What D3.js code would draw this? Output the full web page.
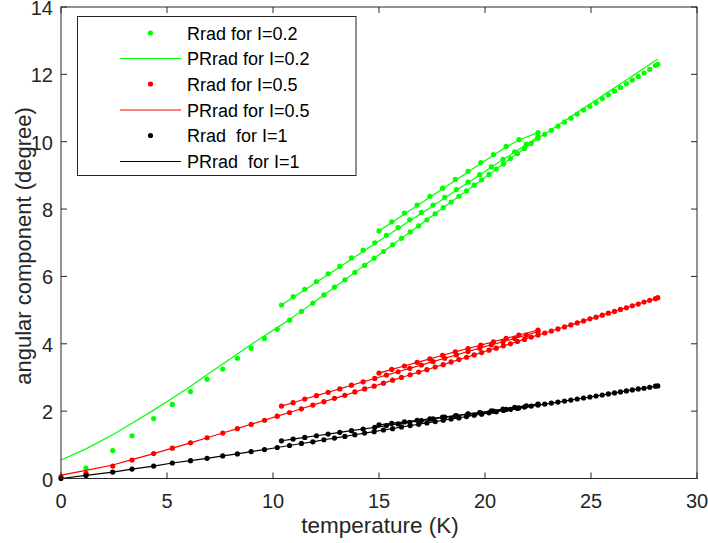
<!DOCTYPE html>
<html><head><meta charset="utf-8">
<script src="https://cdn.jsdelivr.net/npm/d3@7/dist/d3.min.js"></script>
<style>body{margin:0;background:#fff;} text{font-family:"Liberation Sans",Arial,sans-serif;}</style>
</head><body><svg id="c" width="708" height="543"></svg>
<script>
// ---- data ----
const xTicks = [0,5,10,15,20,25,30];
const yTicks = [0,2,4,6,8,10,12,14];
const legendLabels = ["Rrad for I=0.2","PRrad for I=0.2","Rrad for I=0.5","PRrad for I=0.5","Rrad  for I=1","PRrad  for I=1"];
const seriesColors = ["#00ff00","#ff0000","#000000"];

// main sweep temperatures (shared by all three I values)
const tMain = [0,1.18,2.44,3.35,4.37,5.25,6.11,6.89,7.63,8.32,8.97,9.6,10.2,10.78,11.34,11.88,12.4,12.9,13.39,13.86,14.32,14.77,15.21,15.64,16.06,16.47,16.87,17.26,17.65,18.03,18.4,18.77,19.13,19.49,19.84,20.19,20.53,20.87,21.2,21.53,21.86,22.18,22.5,22.82,23.13,23.44,23.75,24.05,24.35,24.65,24.95,25.24,25.53,25.82,26.11,26.39,26.67,26.95,27.23,27.5,27.77,28.04,28.15];
// second sweep (from 10.4 K) and third sweep (from 15 K)
const tB = [10.4,10.95,11.5,12.05,12.6,13.15,13.7,14.25,14.8,15.35,15.9,16.45,17.0,17.55,18.1,18.65,19.2,19.75,20.3,20.85,21.4,21.95,22.5];
const tC = [15.0,15.6,16.2,16.8,17.4,18.0,18.6,19.2,19.8,20.4,21.0,21.6,22.5];

// I = 0.2
const rradG_main = [null,0.31,0.83,1.27,1.78,2.2,2.58,2.95,3.25,3.57,3.87,4.16,4.43,4.7,4.96,5.21,5.45,5.68,5.9,6.12,6.33,6.54,6.74,6.94,7.13,7.32,7.5,7.68,7.86,8.04,8.21,8.38,8.54,8.71,8.87,9.03,9.19,9.34,9.5,9.65,9.8,9.95,10.1,10.22,10.34,10.46,10.58,10.7,10.82,10.94,11.05,11.16,11.28,11.39,11.5,11.61,11.72,11.83,11.94,12.04,12.15,12.26,12.3];
const prradG_main = [0.55,0.88,1.3,1.64,2.03,2.38,2.74,3.08,3.4,3.7,3.98,4.24,4.48,4.72,4.97,5.21,5.45,5.68,5.9,6.12,6.33,6.54,6.74,6.94,7.13,7.32,7.5,7.68,7.86,8.04,8.21,8.38,8.54,8.71,8.87,9.03,9.19,9.34,9.5,9.65,9.8,9.95,10.1,10.23,10.36,10.49,10.62,10.74,10.87,11.0,11.12,11.24,11.36,11.48,11.6,11.72,11.83,11.95,12.07,12.18,12.29,12.41,12.45];
const rradG_B = [5.15,5.4,5.62,5.85,6.08,6.3,6.55,6.78,7.0,7.22,7.45,7.68,7.9,8.12,8.35,8.58,8.8,9.02,9.25,9.48,9.7,9.93,10.16];
const prradG_B = [5.15,5.38,5.6,5.83,6.06,6.28,6.51,6.74,6.97,7.19,7.42,7.65,7.87,8.1,8.33,8.56,8.78,9.01,9.24,9.47,9.69,9.92,10.15];
const rradG_C = [7.35,7.62,7.88,8.12,8.38,8.62,8.88,9.12,9.38,9.62,9.86,10.06,10.27];
const prradG_C = [7.35,7.6,7.85,8.1,8.35,8.6,8.85,9.1,9.35,9.6,9.85,10.05,10.27];

// I = 0.5
const rradR_main = [0.05,0.15,0.37,0.55,0.74,0.9,1.06,1.21,1.35,1.48,1.61,1.73,1.85,1.96,2.07,2.18,2.28,2.38,2.47,2.57,2.66,2.74,2.83,2.92,3.0,3.08,3.16,3.23,3.31,3.38,3.46,3.53,3.6,3.67,3.74,3.81,3.87,3.94,4.0,4.07,4.13,4.2,4.26,4.32,4.38,4.44,4.5,4.56,4.62,4.68,4.74,4.79,4.85,4.91,4.96,5.02,5.07,5.13,5.18,5.24,5.29,5.34,5.37];
const prradR_main = [0.1,0.24,0.4,0.56,0.74,0.9,1.06,1.21,1.35,1.48,1.61,1.73,1.85,1.96,2.07,2.18,2.28,2.38,2.47,2.57,2.66,2.74,2.83,2.92,3.0,3.08,3.16,3.23,3.31,3.38,3.46,3.53,3.6,3.67,3.74,3.81,3.87,3.94,4.0,4.07,4.13,4.2,4.26,4.32,4.38,4.44,4.5,4.56,4.62,4.68,4.74,4.79,4.85,4.91,4.96,5.02,5.07,5.13,5.18,5.24,5.29,5.34,5.37];
const rradR_B = [2.15,2.25,2.36,2.46,2.56,2.66,2.77,2.87,2.97,3.07,3.17,3.27,3.37,3.47,3.57,3.67,3.77,3.87,3.97,4.06,4.16,4.26,4.36];
const rradR_C = [3.13,3.24,3.34,3.45,3.55,3.66,3.76,3.86,3.96,4.06,4.16,4.26,4.41];

// I = 1
const rradK_main = [0.0,0.09,0.19,0.28,0.37,0.46,0.53,0.6,0.67,0.73,0.8,0.86,0.92,0.98,1.04,1.09,1.15,1.2,1.25,1.3,1.35,1.39,1.44,1.48,1.53,1.57,1.61,1.65,1.69,1.73,1.77,1.8,1.84,1.88,1.91,1.95,1.98,2.02,2.05,2.08,2.12,2.15,2.18,2.21,2.24,2.27,2.3,2.33,2.36,2.39,2.42,2.45,2.48,2.51,2.54,2.57,2.6,2.63,2.66,2.68,2.71,2.74,2.75];
const rradK_B = [1.12,1.17,1.22,1.27,1.32,1.37,1.42,1.47,1.52,1.57,1.62,1.67,1.72,1.77,1.82,1.87,1.92,1.96,2.01,2.06,2.11,2.16,2.21];
const rradK_C = [1.59,1.64,1.68,1.73,1.77,1.82,1.86,1.91,1.95,2.0,2.05,2.1,2.2];

// ---- drawing ----
const svg = d3.select("#c");
const m = {l:61, r:697, t:7, b:478.5};
const x = d3.scaleLinear().domain([0,30]).range([m.l, m.r]);
const y = d3.scaleLinear().domain([0,14]).range([m.b, m.t]);

const plot = svg.append("g");
const lineGen = d3.line().defined(d=>d[1]!=null).x(d=>x(d[0])).y(d=>y(d[1]));
function curve(xs, ys, color){
  const pts = xs.map((v,i)=>[v, ys[i]]);
  plot.append("path").attr("d", lineGen(pts)).attr("fill","none").attr("stroke",color).attr("stroke-width",1.2);
}
function dots(xs, ys, color){
  plot.append("g").selectAll("circle").data(xs.map((v,i)=>[v,ys[i]]).filter(d=>d[1]!=null))
    .join("circle").attr("cx",d=>x(d[0])).attr("cy",d=>y(d[1])).attr("r",2.6).attr("fill",color);
}
// green
curve(tMain, prradG_main, seriesColors[0]); dots(tMain, rradG_main, seriesColors[0]);
curve(tB, prradG_B, seriesColors[0]); dots(tB, rradG_B, seriesColors[0]);
curve(tC, prradG_C, seriesColors[0]); dots(tC, rradG_C, seriesColors[0]);
// red
curve(tMain, prradR_main, seriesColors[1]); dots(tMain, rradR_main, seriesColors[1]);
curve(tB, rradR_B, seriesColors[1]); dots(tB, rradR_B, seriesColors[1]);
curve(tC, rradR_C, seriesColors[1]); dots(tC, rradR_C, seriesColors[1]);
// black
curve(tMain, rradK_main, seriesColors[2]); dots(tMain, rradK_main, seriesColors[2]);
curve(tB, rradK_B, seriesColors[2]); dots(tB, rradK_B, seriesColors[2]);
curve(tC, rradK_C, seriesColors[2]); dots(tC, rradK_C, seriesColors[2]);

// axes box & ticks
const axisColor = "#262626";
svg.append("rect").attr("x",m.l).attr("y",m.t).attr("width",m.r-m.l).attr("height",m.b-m.t)
  .attr("fill","none").attr("stroke",axisColor).attr("stroke-width",1);
const tl = 6;
xTicks.forEach(t=>{
  svg.append("line").attr("x1",x(t)).attr("x2",x(t)).attr("y1",m.b).attr("y2",m.b-tl).attr("stroke",axisColor);
  svg.append("line").attr("x1",x(t)).attr("x2",x(t)).attr("y1",m.t).attr("y2",m.t+tl).attr("stroke",axisColor);
  svg.append("text").attr("x",x(t)).attr("y",m.b+29.5).attr("text-anchor","middle").attr("font-size",20).attr("fill",axisColor).text(t);
});
yTicks.forEach(t=>{
  svg.append("line").attr("x1",m.l).attr("x2",m.l+tl).attr("y1",y(t)).attr("y2",y(t)).attr("stroke",axisColor);
  svg.append("line").attr("x1",m.r).attr("x2",m.r-tl).attr("y1",y(t)).attr("y2",y(t)).attr("stroke",axisColor);
  svg.append("text").attr("x",m.l-8).attr("y",y(t)+8).attr("text-anchor","end").attr("font-size",20).attr("fill",axisColor).text(t);
});
svg.append("text").attr("x",380).attr("y",533).attr("text-anchor","middle").attr("font-size",22.5).attr("fill",axisColor).text("temperature (K)");
svg.append("text").attr("transform",`translate(31,${246}) rotate(-90)`).attr("text-anchor","middle").attr("font-size",22).attr("fill",axisColor).text("angular component (degree)");

// legend
const lg = svg.append("g");
lg.append("rect").attr("x",77.5).attr("y",16.5).attr("width",278.5).attr("height",159).attr("fill","#fff").attr("stroke",axisColor).attr("stroke-width",1);
const rowY = [33,58.5,84,110,135.5,161.5];
legendLabels.forEach((lab,i)=>{
  const col = seriesColors[Math.floor(i/2)];
  if(i%2===0) lg.append("circle").attr("cx",150.5).attr("cy",rowY[i]).attr("r",2.6).attr("fill",col);
  else lg.append("line").attr("x1",120).attr("x2",181).attr("y1",rowY[i]).attr("y2",rowY[i]).attr("stroke",col).attr("stroke-width",1.2);
  lg.append("text").attr("x",187).attr("y",rowY[i]+6.5).attr("font-size",18).attr("fill","#000").style("white-space","pre").text(lab);
});
</script></body></html>
